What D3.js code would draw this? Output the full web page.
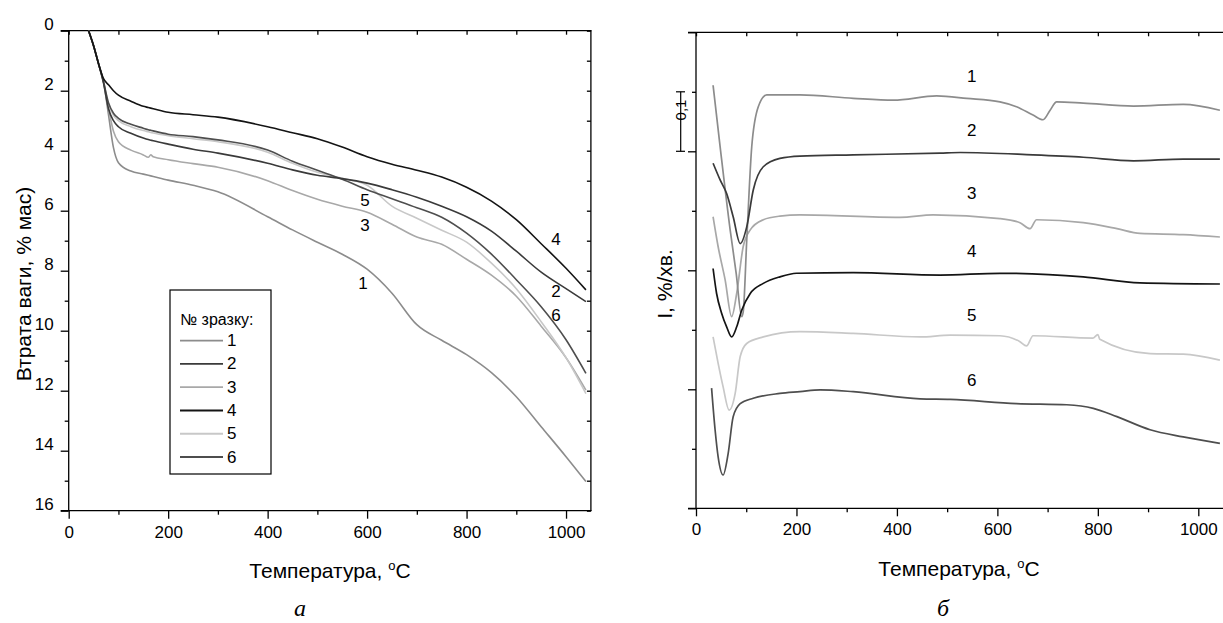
<!DOCTYPE html>
<html><head><meta charset="utf-8">
<script src="https://cdn.jsdelivr.net/npm/d3@7"></script>
<style>
body{margin:0;background:#fff}
svg{display:block}
text{font-family:Arial,"Liberation Sans",sans-serif;fill:#000}
</style>
</head><body>
<svg id="c" width="1223" height="623"></svg>
<script>
// ---------- Panel a: TG (mass loss, % mass) ----------
const tgT = [40,50,60,70,80,90,100,125,150,160,165,170,200,250,300,400,450,500,550,600,650,700,750,800,850,900,950,1000,1040];
const tg1 = [0,0.5,1.1,1.7,2.8,3.9,4.4,4.68,4.78,4.82,4.84,4.86,4.98,5.15,5.37,6.2,6.64,7.05,7.45,7.95,8.75,9.8,10.32,10.8,11.4,12.2,13.2,14.2,15.03];
const tg2 = [0,0.5,1.1,1.75,2.6,3.0,3.2,3.42,3.58,3.63,3.65,3.67,3.78,3.95,4.08,4.42,4.64,4.82,4.93,5.08,5.3,5.55,5.85,6.2,6.68,7.35,8.05,8.6,9.03];
const tg3 = [0,0.5,1.1,1.7,2.6,3.35,3.7,3.98,4.14,4.22,4.14,4.2,4.3,4.43,4.55,5.0,5.33,5.62,5.85,6.05,6.45,6.88,7.12,7.62,8.15,8.85,9.85,10.9,11.98];
const tg4 = [0,0.5,1.1,1.6,1.8,2.0,2.15,2.35,2.52,2.56,2.58,2.6,2.72,2.8,2.88,3.2,3.4,3.6,3.88,4.2,4.45,4.65,4.88,5.22,5.68,6.3,7.1,7.92,8.64];
const tg5 = [0,0.5,1.1,1.7,2.45,2.82,3.0,3.2,3.33,3.37,3.39,3.41,3.5,3.6,3.7,4.05,4.42,4.72,4.92,5.15,5.85,6.25,6.65,7.05,7.75,8.6,9.7,10.9,12.1];
const tg6 = [0,0.5,1.1,1.7,2.4,2.75,2.92,3.12,3.25,3.3,3.32,3.34,3.45,3.53,3.64,3.98,4.35,4.65,4.95,5.3,5.6,5.9,6.22,6.75,7.45,8.3,9.2,10.3,11.42];
const tgSeries = [tg1, tg2, tg3, tg4, tg5, tg6];
const sampleNames = ["1","2","3","4","5","6"];
const legendTitle = "№ зразку:";
const tgXTicks = [0,200,400,600,800,1000];
const tgYTicks = [0,2,4,6,8,10,12,14,16];

// ---------- Panel б: DTG (I, %/min), offset curves, 1 unit = 0.1 %/хв ----------
const dtgT1 = [34,48,68,80,91,94,101,111,124,141,207,313,393,479,539,605,638,671,691,705,718,771,871,970,1043];
const dtg1  = [7.11,6.08,4.68,3.95,3.22,3.3,4.5,6.08,6.75,6.95,6.95,6.89,6.86,6.93,6.89,6.83,6.75,6.61,6.53,6.69,6.83,6.81,6.76,6.79,6.69];
const dtgT2 = [34,48,61,74,88,101,114,134,167,207,313,486,526,671,771,871,970,1043];
const dtg2  = [5.8,5.52,5.29,4.9,4.45,4.73,5.35,5.74,5.88,5.92,5.94,5.97,5.98,5.94,5.9,5.84,5.87,5.87];
const dtgT3 = [34,44,58,71,81,94,108,134,167,207,406,472,605,645,665,678,771,838,884,970,1043];
const dtg3  = [4.9,4.4,3.84,3.22,3.61,4.4,4.68,4.85,4.91,4.93,4.89,4.93,4.87,4.8,4.7,4.85,4.8,4.7,4.62,4.6,4.56];
const dtgT4 = [34,41,51,61,71,81,91,108,134,167,200,313,486,605,771,884,1043];
const dtg4  = [4.03,3.61,3.28,3.05,2.88,3.05,3.33,3.61,3.78,3.89,3.95,3.96,3.92,3.95,3.89,3.79,3.77];
const dtgT5 = [34,44,54,66,78,88,101,134,207,313,446,506,605,645,658,671,790,800,804,904,970,1043];
const dtg5  = [2.88,2.44,2.04,1.65,1.93,2.55,2.77,2.88,2.97,2.94,2.88,2.91,2.9,2.8,2.73,2.9,2.86,2.92,2.84,2.6,2.59,2.49];
const dtgT6 = [31,38,44,54,64,74,88,114,167,207,247,313,446,506,638,738,791,838,904,970,1043];
const dtg6  = [2.02,1.32,0.87,0.56,0.92,1.54,1.76,1.85,1.93,1.96,1.99,1.96,1.84,1.83,1.76,1.74,1.68,1.54,1.32,1.2,1.09];
const dtgTs = [dtgT1, dtgT2, dtgT3, dtgT4, dtgT5, dtgT6];
const dtgSeries = [dtg1, dtg2, dtg3, dtg4, dtg5, dtg6];
const dtgXTicks = [0,200,400,600,800,1000];
const scaleBarLabel = "0,1";

const colors = ["#8c8c8c","#3a3a3a","#a8a8a8","#141414","#c8c8c8","#4e4e4e"];

const svg = d3.select("#c");

function drawAxes(g, x, y, opts){
  const [x0,x1] = x.range();
  const yb = Math.max(...y.range()), yt = Math.min(...y.range());
  // bottom major
  const bx = g.append("g").attr("transform",`translate(0,${yb})`)
    .call(d3.axisBottom(x).tickValues(opts.xMajor).tickSize(8).tickSizeOuter(0).tickFormat(d3.format("d")));
  bx.select(".domain").attr("d",`M${x0-8},0H${opts.xEnd}`);
  bx.selectAll("text").attr("dy",null).attr("y",21.7).attr("dominant-baseline","central").style("font-size","17px");
  g.append("g").attr("transform",`translate(0,${yb})`)
    .call(d3.axisBottom(x).tickValues(opts.xMinor).tickSize(4).tickFormat("")).select(".domain").remove();
  // left major
  const ly = g.append("g").attr("transform",`translate(${x0},0)`)
    .call(d3.axisLeft(y).tickValues(opts.yMajor).tickSize(8).tickSizeOuter(0).tickFormat(opts.yFormat));
  ly.select(".domain").attr("d",`M0,${yb}V${yt}`);
  ly.selectAll("text").attr("dy",null).attr("x",-15).attr("y",opts.yLabelDy).attr("dominant-baseline","central").style("font-size","17px");
  g.append("g").attr("transform",`translate(${x0},0)`)
    .call(d3.axisLeft(y).tickValues(opts.yMinor).tickSize(4).tickFormat("")).select(".domain").remove();
  // top (inward ticks)
  const tx = g.append("g").attr("transform",`translate(0,${yt})`)
    .call(d3.axisTop(x).tickValues(opts.xTop).tickSize(-4).tickSizeOuter(0).tickFormat(""));
  tx.select(".domain").attr("d",`M${x0-8},0H${opts.xEnd}`);
  if(opts.right){
    const ry = g.append("g").attr("transform",`translate(${x1},0)`)
      .call(d3.axisRight(y).tickValues(opts.yRight).tickSize(-4).tickSizeOuter(0).tickFormat(""));
    ry.select(".domain").attr("d",`M0,${yb}V${yt}`);
  }
  g.selectAll(".domain, .tick line").attr("stroke","#000").attr("stroke-width",1.3);
}

// ===== Panel a =====
const xa = d3.scaleLinear().domain([0,1050]).range([68.7,590.9]);
const ya = d3.scaleLinear().domain([0,16]).range([30.7,510.7]);
const ga = svg.append("g");
drawAxes(ga, xa, ya, {
  xMajor: tgXTicks, xMinor: [100,300,500,700,900], xTop: d3.range(0,1001,100), xEnd: 591.6,
  yMajor: tgYTicks, yMinor: [1,3,5,7,9,11,13,15], yRight: d3.range(0,17,1), right:true,
  yFormat: d3.format("d"), yLabelDy: -7
});
const lineA = (vals) => d3.line().x((d,i)=>xa(tgT[i])).y(d=>ya(d)).curve(d3.curveMonotoneX)(vals);
[0,2,4,5,1,3].forEach(i=>{
  ga.append("path").attr("d",lineA(tgSeries[i])).attr("fill","none")
    .attr("stroke",colors[i]).attr("stroke-width",1.6);
});
// curve labels
const tgLabelPos = [[363,283],[556,291],[365,225],[556,239],[365,200],[556,315]];
tgLabelPos.forEach((p,i)=>{
  ga.append("text").attr("x",p[0]).attr("y",p[1]).attr("text-anchor","middle")
    .attr("dominant-baseline","central").style("font-size","17px").text(sampleNames[i]);
});
// legend
const lg = ga.append("g");
lg.append("rect").attr("x",170).attr("y",290).attr("width",101).attr("height",184)
  .attr("fill","#fff").attr("stroke","#000").attr("stroke-width",1.2);
lg.append("text").attr("x",180).attr("y",319).attr("dominant-baseline","central")
  .style("font-size","16px").text(legendTitle);
sampleNames.forEach((n,i)=>{
  const yy = 340.7 + i*23.26;
  lg.append("line").attr("x1",180).attr("x2",223).attr("y1",yy).attr("y2",yy)
    .attr("stroke",colors[i]).attr("stroke-width",1.8);
  lg.append("text").attr("x",227).attr("y",yy).attr("dominant-baseline","central")
    .style("font-size","17px").text(n);
});
// titles
ga.append("text").attr("transform","translate(23,284) rotate(-90)").attr("text-anchor","middle")
  .attr("dominant-baseline","central").style("font-size","21px").text("Втрата ваги, % мас)");
const ta = ga.append("text").attr("x",330).attr("y",578).attr("text-anchor","middle").style("font-size","21px");
ta.append("tspan").text("Температура, ");
ta.append("tspan").attr("dy",-8).style("font-size","13px").text("o");
ta.append("tspan").attr("dy",8).text("C");
ga.append("text").attr("x",300).attr("y",616).attr("text-anchor","middle")
  .style("font-family","'Liberation Serif','Times New Roman',serif").style("font-style","italic")
  .style("font-size","24px").text("а");

// ===== Panel б =====
const xb = d3.scaleLinear().domain([0,1050]).range([696,696+1050*0.5023]);
const yb = d3.scaleLinear().domain([0,8]).range([508.3,32.3]);
const gb = svg.append("g");
drawAxes(gb, xb, yb, {
  xMajor: dtgXTicks, xMinor: [100,300,500,700,900], xTop: d3.range(0,1001,100), xEnd: 1223,
  yMajor: [0,2,4,6,8], yMinor: [1,3,5,7], yRight: [], right:false,
  yFormat: ()=>"", yLabelDy: 0
});
[5,2,0,1,3,4].forEach(i=>{
  const T = dtgTs[i];
  const p = d3.line().x((d,j)=>xb(T[j])).y(d=>yb(d)).curve(d3.curveMonotoneX)(dtgSeries[i]);
  gb.append("path").attr("d",p).attr("fill","none").attr("stroke",colors[i]).attr("stroke-width",1.7);
});
const dtgLabelY = [76.7,130,193.3,251.7,315,380];
sampleNames.forEach((n,i)=>{
  gb.append("text").attr("x",971.7).attr("y",dtgLabelY[i]).attr("text-anchor","middle")
    .attr("dominant-baseline","central").style("font-size","17px").text(n);
});
// scale bar
const sb = gb.append("g").attr("stroke","#000").attr("stroke-width",1.2);
sb.append("line").attr("x1",680.7).attr("x2",680.7).attr("y1",yb(7)).attr("y2",yb(6));
sb.append("line").attr("x1",676).attr("x2",685).attr("y1",yb(7)).attr("y2",yb(7));
sb.append("line").attr("x1",676).attr("x2",685).attr("y1",yb(6)).attr("y2",yb(6));
gb.append("text").attr("transform","translate(680.7,110) rotate(-90)").attr("text-anchor","middle")
  .attr("dominant-baseline","central").style("font-size","15px").text(scaleBarLabel);
gb.append("text").attr("transform","translate(664,284) rotate(-90)").attr("text-anchor","middle")
  .attr("dominant-baseline","central").style("font-size","21px").text("I, %/хв.");
const tb = gb.append("text").attr("x",959).attr("y",576).attr("text-anchor","middle").style("font-size","21px");
tb.append("tspan").text("Температура, ");
tb.append("tspan").attr("dy",-8).style("font-size","13px").text("o");
tb.append("tspan").attr("dy",8).text("C");
gb.append("text").attr("x",943).attr("y",616).attr("text-anchor","middle")
  .style("font-family","'Liberation Serif','Times New Roman',serif").style("font-style","italic")
  .style("font-size","24px").text("б");
</script>
</body></html>
